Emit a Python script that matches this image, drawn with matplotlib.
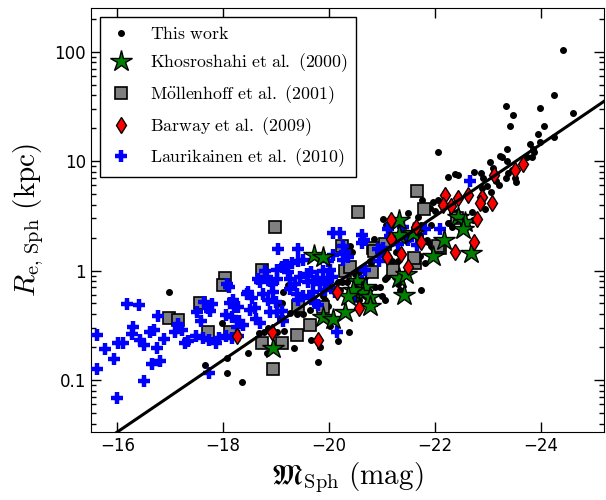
import matplotlib
matplotlib.use('Agg')
import matplotlib.pyplot as plt
import numpy as np
from matplotlib.ticker import FixedLocator, FuncFormatter, LogLocator

plt.rcParams['mathtext.fontset'] = 'cm'

# "This work" (black dots)
mag_this = [-24.43, -24.26, -24.62, -23.34, -23.47, -23.42, -23.98, -24.06, -23.94, -23.98,
            -24.26, -23.79, -23.85, -23.36, -23.23, -23.36, -23.75, -23.04, -23.09, -22.74,
            -22.87, -22.38, -22.25, -23.45, -23.38, -23.51, -22.91, -23.87, -23.83, -23.26,
            -22.06, -22.43, -23.15, -23.21, -23.34, -23.53, -22.98, -22.89, -23.06, -21.91,
            -22.00, -22.06, -21.96, -21.75, -21.49, -21.68, -21.02, -21.08, -21.74, -21.92,
            -22.25, -21.49, -21.51, -21.72, -21.87, -21.92, -21.72, -21.26, -21.30, -21.26,
            -21.36, -21.30, -21.34, -21.74, -20.85, -20.40, -20.43, -20.79, -20.66, -20.57,
            -20.17, -20.21, -20.57, -20.58, -20.40, -22.32, -22.42, -22.70, -22.94, -22.72,
            -22.28, -22.32, -22.53, -21.85, -21.96, -21.81, -21.19, -21.15, -21.25, -21.09,
            -20.77, -20.49, -20.25, -21.02, -21.19, -21.06, -20.87, -20.96, -21.00, -21.06,
            -19.92, -19.79, -20.11, -20.43, -19.64, -19.51, -19.40, -19.26, -19.98, -19.66,
            -19.34, -19.83, -20.17, -20.38, -19.79, -20.02, -20.08, -16.98, -17.98, -17.66,
            -18.08, -18.36, -18.08, -18.47, -18.68, -18.77, -18.85, -19.02, -19.15, -19.36,
            -19.42, -19.23, -19.32, -19.13, -20.02, -19.02, -19.11, -18.83, -19.08, -19.89,
            -20.34]
re_this = [104, 40.5, 27.7, 31.5, 26.6, 21.1, 30.8, 21.1, 17.8, 14.8,
           16.7, 14.4, 13.0, 13.0, 11.2, 10.1, 11.0, 9.7, 8.55, 8.0,
           7.85, 7.69, 7.2, 8.36, 7.85, 7.07, 7.07, 12.2, 10.8, 11.0,
           12.2, 7.5, 6.6, 6.1, 7.07, 6.5, 5.97, 5.73, 5.27, 3.76,
           3.53, 4.45, 4.27, 4.45, 3.32, 3.11, 2.98, 2.63, 2.63, 2.63,
           2.69, 2.18, 1.96, 2.09, 1.84, 1.66, 1.37, 1.49, 1.21, 1.02,
           0.86, 0.76, 0.67, 0.67, 1.96, 1.69, 1.49, 1.18, 1.07, 0.96,
           0.78, 0.67, 0.54, 0.47, 0.63, 3.46, 3.46, 3.46, 3.61, 2.92,
           2.74, 2.52, 2.63, 1.92, 1.62, 1.18, 1.21, 1.09, 0.88, 0.88,
           1.21, 0.92, 0.79, 1.40, 1.80, 0.83, 0.71, 0.70, 0.58, 0.54,
           0.54, 0.49, 0.63, 0.58, 0.44, 0.40, 0.40, 0.41, 0.47, 0.23,
           0.198, 0.20, 0.225, 0.272, 0.145, 0.31, 0.36, 0.63, 0.335, 0.136,
           0.117, 0.095, 0.16, 0.178, 0.266, 0.272, 0.30, 0.277, 0.28, 0.46,
           0.51, 0.73, 0.70, 0.64, 0.71, 0.49, 0.51, 0.178, 0.37, 0.58,
           0.79]

# Khosroshahi et al. (2000)
mag_kho = [-19.72, -19.89, -18.94, -19.89, -20.08, -20.30, -20.53, -20.68, -20.62, -20.45,
           -20.77, -20.36, -20.77, -21.32, -21.32, -21.58, -22.43, -22.57, -22.53, -22.17,
           -21.96, -22.68, -21.32, -21.45, -21.42]
re_kho = [1.40, 1.34, 0.198, 0.38, 0.357, 0.42, 0.81, 0.71, 0.62, 0.67,
          0.57, 0.58, 0.47, 2.92, 2.09, 2.18, 3.11, 2.80, 2.42, 1.92,
          1.37, 1.46, 0.86, 0.92, 0.60]

# Mollenhoff et al. (2001)
mag_mol = [-18.98, -18.04, -18.00, -17.57, -16.98, -17.15, -17.72, -18.13, -18.74, -18.74,
           -18.94, -19.11, -19.40, -19.64, -19.42, -19.89, -20.25, -20.30, -20.40, -20.55,
           -20.83, -20.81, -21.06, -21.66, -21.79, -20.85, -21.62, -22.09, -22.42, -22.06,
           -21.60, -21.21]
re_mol = [2.52, 0.86, 0.73, 0.51, 0.372, 0.35, 0.272, 0.272, 1.02, 0.22,
          0.127, 0.22, 0.26, 0.315, 0.47, 0.46, 1.66, 0.98, 1.07, 3.39,
          1.62, 0.96, 1.73, 5.38, 3.68, 1.52, 1.18, 1.59, 3.05, 1.66,
          1.29, 1.02]

# Barway et al. (2009)
mag_bar = [-23.11, -23.51, -23.66, -22.19, -22.43, -22.62, -22.15, -22.30, -22.89, -22.85,
           -23.08, -22.79, -21.17, -21.64, -21.74, -22.74, -22.38, -21.36, -21.09, -21.49,
           -21.17, -20.57, -20.15, -19.79, -18.26, -18.92]
re_bar = [7.5, 8.2, 9.3, 4.94, 4.64, 4.94, 4.0, 3.85, 4.74, 4.18,
          4.18, 2.98, 2.92, 2.52, 1.84, 1.84, 1.49, 1.43, 1.32, 1.07,
          1.96, 0.45, 0.64, 0.234, 0.25, 0.272]

# Laurikainen et al. (2010)
mag_lau = [-15.62, -15.62, -15.77, -15.94, -16.02, -16.11, -16.19, -16.40, -16.00, -16.30,
           -16.28, -16.43, -16.51, -16.62, -16.70, -16.74, -16.89, -16.77, -16.66, -16.81,
           -16.51, -17.08, -17.15, -17.23, -17.28, -17.34, -17.51, -17.49, -17.58, -17.64,
           -17.72, -17.75, -17.62, -17.74, -17.87, -17.92, -18.06, -18.06, -17.74, -18.08,
           -18.11, -18.17, -18.13, -18.21, -18.28, -18.30, -18.26, -18.17, -18.28, -18.38,
           -18.45, -18.55, -18.60, -18.66, -18.83, -18.89, -18.70, -18.75, -18.85, -18.94,
           -19.00, -18.92, -19.02, -19.02, -19.11, -19.21, -19.30, -19.42, -19.04, -19.42,
           -19.51, -19.02, -19.11, -19.13, -18.89, -19.26, -19.40, -19.45, -19.58, -19.66,
           -19.70, -19.77, -19.83, -19.51, -19.64, -19.70, -19.89, -20.02, -19.98, -20.08,
           -20.21, -20.26, -20.30, -20.11, -20.15, -20.62, -20.62, -20.36, -20.26, -20.08,
           -19.98, -19.23, -19.60, -19.96, -19.42, -20.68, -20.62, -20.92, -21.02, -21.11,
           -19.74, -19.79, -20.49, -22.66, -21.81, -22.09, -21.15, -21.30, -21.49, -21.66,
           -21.40, -20.66, -20.98, -20.94, -20.28, -18.47, -18.19, -17.79, -19.17, -18.79,
           -18.70, -20.06, -18.51, -18.62, -19.26, -19.36, -19.92]
re_lau = [0.255, 0.127, 0.190, 0.157, 0.220, 0.220, 0.490, 0.480, 0.069, 0.302,
          0.261, 0.234, 0.211, 0.272, 0.289, 0.198, 0.239, 0.388, 0.139, 0.148,
          0.097, 0.277, 0.328, 0.289, 0.216, 0.225, 0.414, 0.250, 0.343, 0.521,
          0.459, 0.431, 0.244, 0.234, 0.220, 0.244, 0.396, 0.250, 0.117, 0.760,
          0.700, 0.380, 0.510, 0.469, 0.469, 0.343, 0.308, 0.244, 0.250, 0.321,
          0.604, 0.567, 0.459, 0.828, 0.881, 0.794, 0.335, 0.604, 0.543, 0.630,
          0.521, 0.760, 0.828, 1.02, 1.07, 1.13, 1.16, 1.21, 1.56, 1.56,
          1.26, 0.414, 0.424, 0.343, 0.414, 0.671, 0.604, 0.881, 0.920, 0.96,
          0.81, 0.86, 0.76, 0.58, 0.567, 0.643, 0.98, 1.02, 0.86, 2.18,
          2.22, 1.66, 1.49, 0.63, 0.272, 2.13, 1.77, 1.34, 1.26, 1.40,
          1.21, 0.96, 0.78, 0.78, 0.543, 1.02, 0.81, 1.56, 1.62, 2.37,
          0.51, 0.48, 0.58, 6.6, 2.42, 2.42, 2.05, 1.73, 1.92, 1.70,
          2.52, 1.92, 1.49, 1.23, 1.43, 0.63, 0.54, 0.49, 1.13, 0.98,
          0.79, 0.88, 0.44, 0.36, 0.83, 0.75, 0.67]

# fitted relation: log10(Re) = fit_zero + fit_slope * Mag
fit_zero = -6.729
fit_slope = -0.3284
fit_mag = [-15.5, -25.2]

x_ticks = [-16, -18, -20, -22, -24]
y_ticks = [0.1, 1, 10, 100]

fig = plt.figure(figsize=(6.06, 5.0), dpi=100)
ax = fig.add_axes([0.150, 0.136, 0.847, 0.848])

ax.plot(mag_this, re_this, 'o', color='black', ms=4, mec='black', label=r'$\rm This\ work$', zorder=2)
ax.plot(mag_kho, re_kho, '*', color='green', ms=16, mec='black', mew=1.0,
        label=r'$\rm Khosroshahi\ et\ al.\ (2000)$', zorder=4)
ax.plot(mag_mol, re_mol, 's', color='gray', ms=9, mec='black', mew=1.2,
        label=r'$\rm M\ddot{o}llenhoff\ et\ al.\ (2001)$', zorder=3)
ax.plot(mag_bar, re_bar, 'd', color='red', ms=8, mec='black', mew=1.0,
        label=r'$\rm Barway\ et\ al.\ (2009)$', zorder=4)
ax.plot(mag_lau, re_lau, '+', color='blue', ms=9, mew=3.2,
        label=r'$\rm Laurikainen\ et\ al.\ (2010)$', zorder=3)

fm = np.array(fit_mag)
ax.plot(fm, 10 ** (fit_zero + fit_slope * fm), '-', color='black', lw=2.2, zorder=5)

ax.set_yscale('log')
ax.set_xlim(-15.5, -25.2)
ax.set_ylim(0.0335, 250)
ax.xaxis.set_major_locator(FixedLocator(x_ticks))
ax.yaxis.set_major_locator(FixedLocator(y_ticks))
ax.yaxis.set_major_formatter(FuncFormatter(lambda v, p: '%g' % v))
ax.yaxis.set_minor_locator(LogLocator(base=10, subs=np.arange(2, 10)))
ax.yaxis.set_minor_formatter(plt.NullFormatter())
ax.tick_params(which='both', direction='in', top=True, right=True, labelsize=12)
ax.tick_params(which='major', length=7, width=1)
ax.tick_params(which='minor', length=3.5, width=1)

ax.set_xlabel(r'$\mathfrak{M}_{\rm Sph}\ (\rm mag)$', fontsize=21, labelpad=4)
ax.set_ylabel(r'$R_{\rm e,\,Sph}\ (\rm kpc)$', fontsize=21, labelpad=6)

leg = ax.legend(loc='upper left', numpoints=1, fontsize=12.8, fancybox=False,
                edgecolor='black', framealpha=1, labelspacing=0.5, handlelength=1.5,
                borderpad=0.45, handletextpad=0.9, borderaxespad=0.5)
leg.get_frame().set_linewidth(1.0)

fig.savefig('out.png', dpi=100)
